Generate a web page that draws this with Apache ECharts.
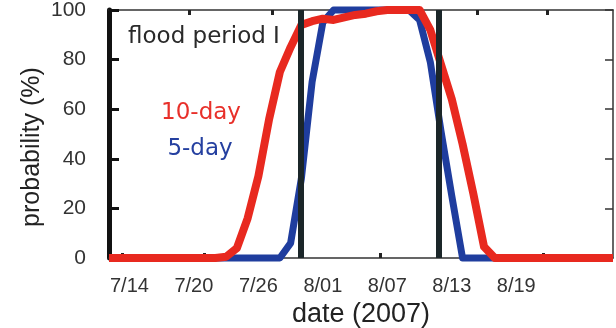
<!DOCTYPE html>
<html>
<head>
<meta charset="utf-8">
<script src="https://cdn.jsdelivr.net/npm/echarts@6/dist/echarts.min.js"></script>
<style>
html,body{margin:0;padding:0;background:#fff;}
#chart{width:616px;height:328px;}
</style>
</head>
<body>
<div id="chart"></div>
<script>
// x values are days after 7/14/2007
var tickDays = [0, 6, 12, 18, 24, 30, 36];
var tickLabels = ['7/14', '7/20', '7/26', '8/01', '8/07', '8/13', '8/19'];
var bottomTicks = [-0.7, 7, 23.3, 38.5];
var topTicks = [5.6, 13.3, 32.4, 38.9];
var floodBounds = [15.9, 28.8];

var redDays = [-1.9, 8, 9, 10, 11, 12, 13, 14, 15, 16, 17, 18, 19, 20, 21, 22, 23, 24, 27, 28, 29, 30, 31, 32, 33, 34, 45];
var redVals = [0, 0, 0.5, 4, 16, 33, 56, 75, 85, 94, 95.5, 96.5, 96, 97, 98, 98.5, 99.5, 100, 100, 92, 78, 64, 46, 26, 4.5, 0, 0];

var blueDays = [-1.9, 14, 15, 16, 17, 18, 19, 26, 27, 28, 29, 30, 31, 45];
var blueVals = [0, 0, 6, 32, 71, 95, 100, 100, 96, 79, 51, 25, 0, 0];

function zip(a, b) { return a.map(function (v, i) { return [v, b[i]]; }); }

var chart = echarts.init(document.getElementById('chart'), null, {renderer: 'canvas'});
var font = 'Liberation Sans';
chart.setOption({
  animation: false,
  backgroundColor: '#ffffff',
  grid: {left: 109, right: 3, top: 10, bottom: 70, containLabel: false, outerBoundsMode: 'none'},
  xAxis: [{
    type: 'value', min: -1.9, max: 45, position: 'bottom',
    splitLine: {show: false},
    axisLine: {show: true, onZero: false, lineStyle: {color: '#333', width: 1.5}},
    axisTick: {show: true, inside: true, length: 5, customValues: bottomTicks, lineStyle: {color: '#222', width: 3}},
    axisLabel: {
      customValues: tickDays, margin: 18, fontSize: 20, color: '#333', fontFamily: font,
      formatter: function (v) { var i = tickDays.indexOf(v); return i >= 0 ? tickLabels[i] : ''; }
    },
    name: 'date (2007)', nameLocation: 'middle', nameGap: 39,
    nameTextStyle: {fontSize: 27, color: '#222', fontFamily: font}
  }, {
    type: 'value', min: -1.9, max: 45, position: 'top',
    splitLine: {show: false},
    axisLine: {show: true, onZero: false, lineStyle: {color: '#333', width: 1.5}},
    axisTick: {show: true, inside: true, length: 5, customValues: topTicks, lineStyle: {color: '#222', width: 3}},
    axisLabel: {show: false}
  }],
  yAxis: [{
    type: 'value', min: 0, max: 100, interval: 20, position: 'left',
    splitLine: {show: false},
    axisLine: {show: true, onZero: false, lineStyle: {color: '#111', width: 5}},
    axisTick: {show: true, inside: true, length: 10, lineStyle: {color: '#111', width: 3}},
    axisLabel: {margin: 23, fontSize: 21, color: '#333', fontFamily: font}
  }, {
    type: 'value', min: 0, max: 100, interval: 20, position: 'right',
    splitLine: {show: false},
    axisLine: {show: true, onZero: false, lineStyle: {color: '#333', width: 1.5}},
    axisTick: {show: true, inside: true, length: 8, lineStyle: {color: '#333', width: 1.5}},
    axisLabel: {show: false}
  }],
  series: [{
    type: 'line', name: '5-day', data: zip(blueDays, blueVals), showSymbol: false, clip: false, z: 2,
    lineStyle: {color: '#1f3d9e', width: 7, join: 'round'}
  }, {
    type: 'line', name: 'bounds', data: [], z: 3, silent: true,
    markLine: {
      silent: true, symbol: 'none', label: {show: false},
      lineStyle: {color: '#1b2629', width: 6, type: 'solid'},
      data: floodBounds.map(function (d) { return {xAxis: d}; })
    }
  }, {
    type: 'line', name: '10-day', data: zip(redDays, redVals), showSymbol: false, clip: false, z: 4,
    lineStyle: {color: '#e8291f', width: 8, join: 'round'}
  }],
  graphic: [{
    type: 'text', x: 128, y: 37, z: 10,
    style: {text: 'flood period I', font: '23px "DejaVu Sans"', fill: '#2a2a2a', textVerticalAlign: 'middle', textAlign: 'left'}
  }, {
    type: 'text', x: 201, y: 113, z: 10,
    style: {text: '10-day', font: '23px "DejaVu Sans"', fill: '#e8302a', textVerticalAlign: 'middle', textAlign: 'center'}
  }, {
    type: 'text', x: 200, y: 149, z: 10,
    style: {text: '5-day', font: '23px "DejaVu Sans"', fill: '#2540a0', textVerticalAlign: 'middle', textAlign: 'center'}
  }, {
    type: 'text', x: 32, y: 147, rotation: Math.PI / 2, z: 10,
    style: {text: 'probability (%)', font: '25px "Liberation Sans"', fill: '#222', textVerticalAlign: 'middle', textAlign: 'center'}
  }]
});
</script>
</body>
</html>
